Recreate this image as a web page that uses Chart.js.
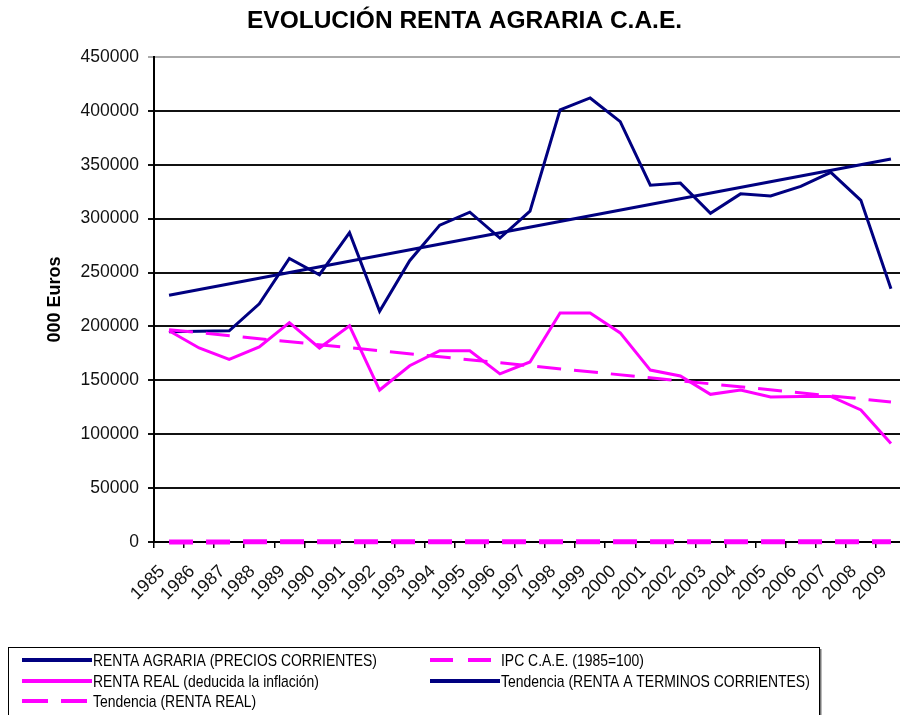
<!DOCTYPE html>
<html>
<head>
<meta charset="utf-8">
<script src="https://cdn.jsdelivr.net/npm/chart.js@4.4.1/dist/chart.umd.min.js"></script>
<style>
  html, body { margin: 0; padding: 0; overflow: hidden; background: #fff; }
  canvas { display: block; }
</style>
</head>
<body>
<canvas id="grafica" width="906" height="715"></canvas>
<script>
// ─── DATOS ────────────────────────────────────────────────────────────────

const years = ['1985', '1986', '1987', '1988', '1989', '1990', '1991', '1992', '1993',
  '1994', '1995', '1996', '1997', '1998', '1999', '2000', '2001', '2002', '2003',
  '2004', '2005', '2006', '2007', '2008', '2009'];

// Renta agraria a precios corrientes (000 euros)
const rentaCorriente = [195000, 195500, 196000, 221000, 263000, 248000, 287000, 214000,
  261000, 294000, 306000, 282000, 307000, 401000, 412000, 390000, 331000, 333000,
  305000, 323000, 321000, 330000, 343000, 317000, 235000];

// IPC C.A.E. (1985=100), invisible a esta escala
const ipc = [100, 108, 114, 120, 128, 137, 145, 154, 161, 169, 177, 183, 187, 190,
  195, 202, 208, 216, 222, 229, 237, 245, 252, 262, 262];

// Renta real (deducida la inflación)
const rentaReal = [196000, 180000, 169500, 181000, 203500, 180000, 200500, 141000,
  163500, 177500, 177500, 156000, 167000, 212500, 212500, 194000, 159500, 154000,
  137000, 141000, 134500, 135000, 135000, 122500, 91500];

// Tendencias: sólo los extremos, unidos en línea recta
const tendCorriente = [229000, ...Array(23).fill(null), 355300];
const tendReal = [197000, ...Array(23).fill(null), 130000];

const NAVY = '#000080';
const MAGENTA = '#ff00ff';

// ─── LEYENDA (dos columnas, como en el original) ─────────────────────────

const leyendaPlugin = {
  id: 'leyenda',
  afterDraw(chart) {
    const ctx = chart.ctx;
    const cols = [22, 430];
    const rows = [660, 681, 701];
    ctx.save();
    ctx.strokeStyle = '#000';
    ctx.lineWidth = 1;
    ctx.strokeRect(8.5, 647.5, 811, 90);
    ctx.fillStyle = '#777';
    ctx.fillRect(820, 649, 1.5, 70);

    chart.data.datasets.forEach((ds, i) => {
      const x = cols[i % 2];
      const y = rows[Math.floor(i / 2)];
      ctx.beginPath();
      ctx.setLineDash(ds.legendDash || []);
      ctx.lineWidth = 4;
      ctx.strokeStyle = ds.borderColor;
      ctx.moveTo(x, y);
      ctx.lineTo(x + 70, y);
      ctx.stroke();
      ctx.setLineDash([]);

      ctx.save();
      ctx.translate(x + 71, y + 1);
      ctx.scale(0.82, 1);
      ctx.fillStyle = '#000';
      ctx.font = '17px "Liberation Sans", Arial, sans-serif';
      ctx.textBaseline = 'middle';
      ctx.fillText(ds.label, 0, 0);
      ctx.restore();
    });
    ctx.restore();
  }
};

// ─── GRÁFICA ──────────────────────────────────────────────────────────────

Chart.defaults.font.family = '"Liberation Sans", Arial, sans-serif';
Chart.defaults.color = '#000';

new Chart(document.getElementById('grafica'), {
  type: 'line',
  data: {
    labels: years,
    datasets: [
      {
        label: 'RENTA AGRARIA (PRECIOS CORRIENTES)',
        data: rentaCorriente,
        borderColor: NAVY,
        borderWidth: 3,
        order: 3
      },
      {
        label: 'IPC C.A.E. (1985=100)',
        data: ipc,
        borderColor: MAGENTA,
        borderWidth: 5,
        borderDash: [24, 13],
        legendDash: [23, 15],
        clip: false,
        order: 5
      },
      {
        label: 'RENTA REAL (deducida la inflación)',
        data: rentaReal,
        borderColor: MAGENTA,
        borderWidth: 3,
        order: 2
      },
      {
        label: 'Tendencia (RENTA A TERMINOS CORRIENTES)',
        data: tendCorriente,
        borderColor: NAVY,
        borderWidth: 3,
        spanGaps: true,
        order: 4
      },
      {
        label: 'Tendencia (RENTA REAL)',
        data: tendReal,
        borderColor: MAGENTA,
        borderWidth: 3,
        borderDash: [24, 13],
        legendDash: [26, 13],
        spanGaps: true,
        order: 1
      }
    ]
  },
  options: {
    responsive: false,
    animation: false,
    elements: {
      point: { radius: 0 },
      line: { tension: 0, borderCapStyle: 'butt', fill: false }
    },
    layout: { padding: { left: 23, right: 0, top: 0, bottom: 73 } },
    plugins: {
      legend: { display: false },
      tooltip: { enabled: false },
      title: {
        display: true,
        text: 'EVOLUCIÓN RENTA AGRARIA C.A.E.',
        color: '#000',
        font: { size: 24.5, weight: 'bold' },
        padding: { top: 7, bottom: 20.6 }
      }
    },
    scales: {
      x: {
        offset: true,
        grid: {
          offset: true,
          drawOnChartArea: false,
          drawTicks: true,
          tickLength: 6,
          color: '#000',
          lineWidth: 1.5
        },
        border: { display: true, color: '#000', width: 2 },
        ticks: {
          autoSkip: false,
          maxRotation: 45,
          minRotation: 45,
          padding: 13,
          labelOffset: -7,
          color: '#111',
          font: { size: 18 }
        },
        afterFit: scale => {
          scale.height = 100;
          scale.paddingLeft = 0;
          scale.paddingRight = 0;
        }
      },
      y: {
        min: 0,
        max: 450000,
        grid: {
          color: ctx => ctx.tick && ctx.tick.value === 450000 ? '#aaa' : '#111',
          lineWidth: 2,
          tickLength: 6
        },
        border: { display: true, color: '#000', width: 2 },
        ticks: {
          stepSize: 50000,
          padding: 9,
          color: '#111',
          font: { size: 17.5 },
          callback: v => String(v)
        },
        title: {
          display: true,
          text: '000 Euros',
          color: '#000',
          font: { size: 18, weight: 'bold' },
          padding: { top: 21, bottom: 0 }
        },
        afterFit: scale => { scale.width = 131; }
      }
    }
  },
  plugins: [leyendaPlugin]
});
</script>
</body>
</html>
